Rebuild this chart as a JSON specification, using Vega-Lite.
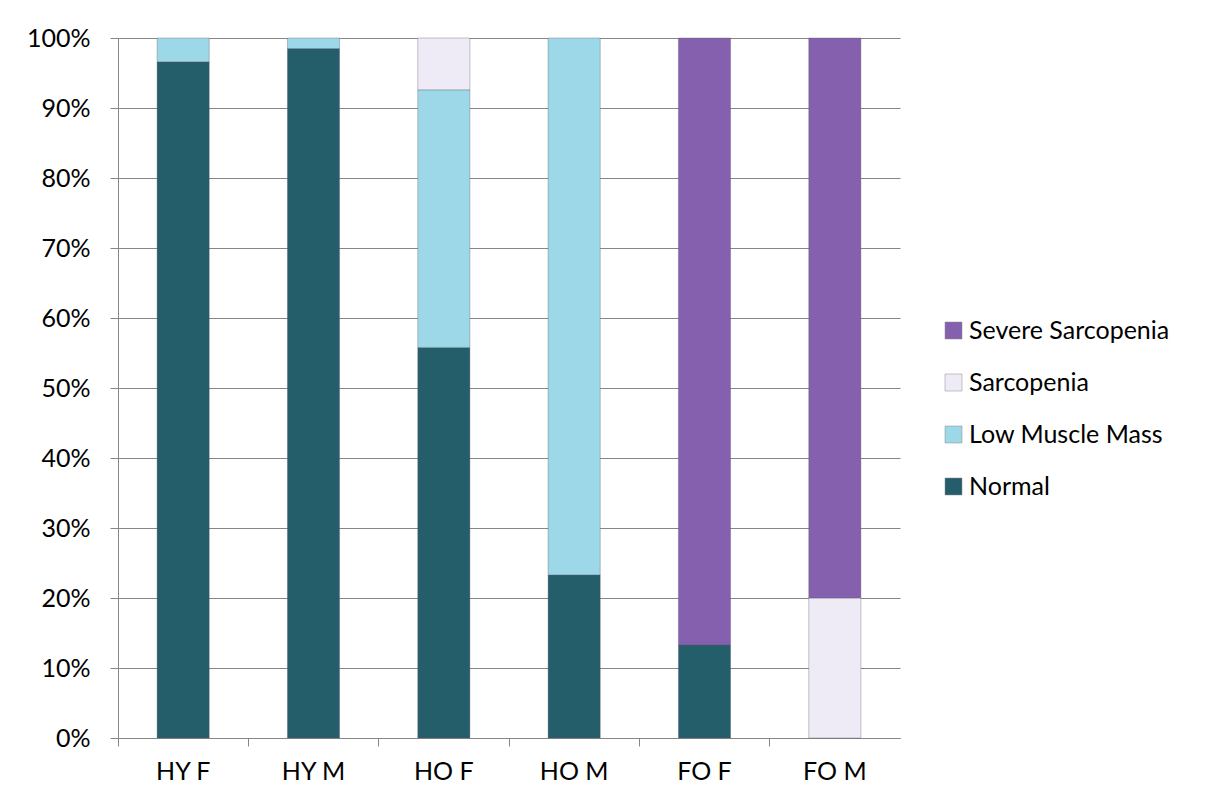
{
  "$schema": "https://vega.github.io/schema/vega-lite/v6.json",
  "width": 782,
  "height": 700,
  "autosize": "none",
  "padding": {"left": 118, "top": 38, "right": 310, "bottom": 67},
  "background": "white",
  "config": {
    "font": "Lato",
    "view": {"stroke": null}
  },
  "data": {
    "values": [
      {"group": "HY F", "category": "Normal", "order": 1, "value": 0.966},
      {"group": "HY F", "category": "Low Muscle Mass", "order": 2, "value": 0.034},
      {"group": "HY M", "category": "Normal", "order": 1, "value": 0.985},
      {"group": "HY M", "category": "Low Muscle Mass", "order": 2, "value": 0.015},
      {"group": "HO F", "category": "Normal", "order": 1, "value": 0.558},
      {"group": "HO F", "category": "Low Muscle Mass", "order": 2, "value": 0.368},
      {"group": "HO F", "category": "Sarcopenia", "order": 3, "value": 0.074},
      {"group": "HO M", "category": "Normal", "order": 1, "value": 0.233},
      {"group": "HO M", "category": "Low Muscle Mass", "order": 2, "value": 0.767},
      {"group": "FO F", "category": "Normal", "order": 1, "value": 0.133},
      {"group": "FO F", "category": "Severe Sarcopenia", "order": 4, "value": 0.867},
      {"group": "FO M", "category": "Sarcopenia", "order": 3, "value": 0.2},
      {"group": "FO M", "category": "Severe Sarcopenia", "order": 4, "value": 0.8}
    ]
  },
  "mark": {"type": "bar", "width": {"band": 0.4}, "stroke": "#5a5a6a", "strokeOpacity": 0.35, "strokeWidth": 1},
  "encoding": {
    "x": {
      "field": "group",
      "type": "nominal",
      "sort": ["HY F", "HY M", "HO F", "HO M", "FO F", "FO M"],
      "scale": {"paddingInner": 0, "paddingOuter": 0},
      "axis": {
        "title": null,
        "labelAngle": 0,
        "bandPosition": 0,
        "labelFontSize": 25,
        "labelColor": "#000000",
        "labelPadding": 13,
        "tickSize": 8,
        "tickColor": "#868686",
        "domainColor": "#868686",
        "grid": false
      }
    },
    "y": {
      "field": "value",
      "type": "quantitative",
      "stack": "zero",
      "scale": {"domain": [0, 1], "nice": false},
      "axis": {
        "title": null,
        "format": ".0%",
        "values": [0, 0.1, 0.2, 0.3, 0.4, 0.5, 0.6, 0.7, 0.8, 0.9, 1],
        "labelFontSize": 25,
        "labelColor": "#000000",
        "labelPadding": 20,
        "tickSize": 8,
        "tickColor": "#868686",
        "domainColor": "#868686",
        "gridColor": "#868686",
        "gridWidth": 1,
        "gridOpacity": 1
      }
    },
    "color": {
      "field": "category",
      "type": "nominal",
      "scale": {
        "domain": ["Severe Sarcopenia", "Sarcopenia", "Low Muscle Mass", "Normal"],
        "range": ["#8560ae", "#efebf6", "#9dd8e8", "#255e6b"]
      },
      "legend": {
        "title": null,
        "orient": "none",
        "legendX": 823,
        "legendY": 280,
        "symbolType": "square",
        "symbolSize": 289,
        "symbolStrokeColor": "#888888",
        "symbolStrokeWidth": 0.5,
        "labelFontSize": 25,
        "labelColor": "#000000",
        "labelOffset": 3,
        "labelLimit": 400,
        "rowPadding": 26
      }
    },
    "order": {"field": "order", "type": "quantitative", "sort": "ascending"}
  }
}
